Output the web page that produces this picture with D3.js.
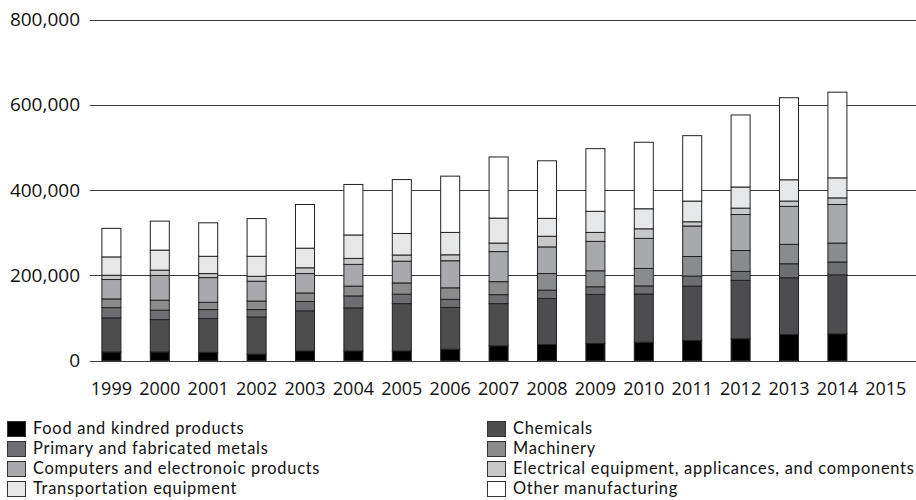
<!DOCTYPE html>
<html>
<head>
<meta charset="utf-8">
<script src="https://cdn.jsdelivr.net/npm/d3@7"></script>
<style>
  html, body { margin: 0; padding: 0; background: #fff; }
  svg { display: block; font-family: "Open Sans", "Noto Sans", sans-serif; }
  .legend text { font-family: Lato, "Open Sans", sans-serif; }
</style>
</head>
<body>
<div id="chart"></div>
<script>
const years = ["1999","2000","2001","2002","2003","2004","2005","2006","2007","2008","2009","2010","2011","2012","2013","2014","2015"];
const seriesNames = [
  "Food and kindred products",
  "Chemicals",
  "Primary and fabricated metals",
  "Machinery",
  "Computers and electronoic products",
  "Electrical equipment, applicances, and components",
  "Transportation equipment",
  "Other manufacturing"
];
const seriesColors = ["#000000","#4d4d4f","#6d6e71","#8a8b8d","#a7a9ac","#c7c8ca","#e6e7e8","#ffffff"];
// values in thousands
const food      = [20, 20, 19, 15, 22.5, 22.5, 22.5, 26.5, 34.5, 37.5, 40, 43, 47, 51, 61, 62.5, 0];
const chemicals = [80, 76, 79.5, 87, 94, 101, 111, 98, 99, 108, 115, 113, 127.5, 137, 133, 138.5, 0];
const metals    = [24, 22, 21, 17.5, 22, 28, 22, 19, 21, 19.5, 18, 19, 23.5, 21, 33, 30, 0];
const machinery = [20.5, 23.5, 17, 20, 20, 23, 26.5, 27, 30.5, 39, 37.5, 41, 46, 49, 45.5, 44.5, 0];
const computers = [45.5, 58, 58, 46.5, 45.5, 51, 51, 63.5, 70.5, 62.5, 69, 70.5, 71.5, 84.5, 89, 90.5, 0];
const electrical= [10, 12.5, 9.5, 11.5, 13.5, 14, 14.5, 14, 20, 25, 21, 22.5, 10, 15, 12.5, 15.5, 0];
const transport = [43, 47, 40.5, 47, 46, 55, 50.5, 52.5, 58.5, 42, 49.5, 47, 48.5, 49.5, 50, 47, 0];
const other     = [67, 68, 78.5, 88.5, 102.5, 118.5, 126.5, 132, 143.5, 135, 147, 156, 153.5, 169, 192.5, 201, 0];
const yTicks = [0, 200000, 400000, 600000, 800000];

const seriesValues = [food, chemicals, metals, machinery, computers, electrical, transport, other];
const keys = seriesNames;
const table = years.map((yr, i) => {
  const row = { year: yr };
  keys.forEach((k, j) => { row[k] = seriesValues[j][i] * 1000; });
  return row;
});

const W = 916, H = 500;
const svg = d3.select("#chart").append("svg").attr("width", W).attr("height", H);

const y = d3.scaleLinear().domain([0, 800000]).range([360.5, 19.5]);
const pi = 0.607;
const x = d3.scaleBand().domain(years).range([87.2, 910]).paddingInner(pi).paddingOuter(pi / 2);
const color = d3.scaleOrdinal().domain(keys).range(seriesColors);

// gridlines
svg.append("g").selectAll("line").data(yTicks).join("line")
  .attr("x1", 90).attr("x2", W)
  .attr("y1", d => Math.round(y(d)) + 0.5).attr("y2", d => Math.round(y(d)) + 0.5)
  .attr("stroke", "#3a3a3a").attr("stroke-width", 1);

// y labels
svg.append("g").selectAll("text").data(yTicks).join("text")
  .attr("x", 80).attr("y", d => y(d))
  .attr("dy", "0.35em")
  .attr("text-anchor", "end")
  .attr("font-size", 19).attr("fill", "#111")
  .text(d => d3.format(",")(d));

// stacked bars
const stack = d3.stack().keys(keys)(table);
svg.append("g").selectAll("g").data(stack).join("g")
  .attr("fill", d => color(d.key))
  .selectAll("rect").data(d => d).join("rect")
  .attr("x", d => x(d.data.year))
  .attr("width", x.bandwidth())
  .attr("y", d => y(d[1]))
  .attr("height", d => Math.max(0, y(d[0]) - y(d[1])))
  .attr("stroke", d => (d[1] - d[0]) > 0 ? "#222" : "none")
  .attr("stroke-width", 1);

// x labels
svg.append("g").selectAll("text").data(years).join("text")
  .attr("x", d => x(d) + x.bandwidth() / 2)
  .attr("y", 395)
  .attr("text-anchor", "middle")
  .attr("font-size", 18).attr("fill", "#111")
  .text(d => d);

// legend
const legend = svg.append("g").attr("class", "legend");
keys.forEach((k, i) => {
  const col = i % 2, row = Math.floor(i / 2);
  const lx = col === 0 ? 7 : 487;
  const ly = 421 + row * 20;
  legend.append("rect")
    .attr("x", lx + 0.5).attr("y", ly + 0.5)
    .attr("width", 18).attr("height", 15)
    .attr("fill", color(k)).attr("stroke", "#333").attr("stroke-width", 1);
  legend.append("text")
    .attr("x", lx + 26).attr("y", ly + 13)
    .attr("font-size", 16.4).attr("letter-spacing", 0.75).attr("fill", "#111")
    .text(k);
});
</script>
</body>
</html>
